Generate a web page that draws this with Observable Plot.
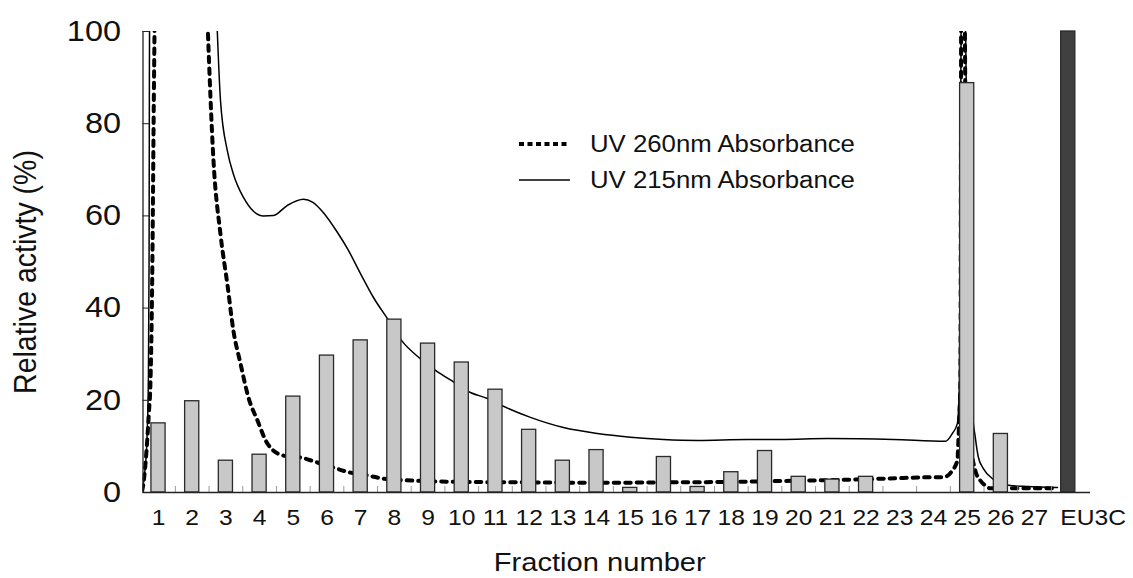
<!DOCTYPE html>
<html>
<head>
<meta charset="utf-8">
<script src="https://cdn.jsdelivr.net/npm/d3@7"></script>
<script src="https://cdn.jsdelivr.net/npm/@observablehq/plot@0.6"></script>
<style>
  body { margin: 0; background: #fff; }
  #wrap { position: relative; width: 1133px; height: 578px; font-family: "Liberation Sans", Arial, sans-serif; color: #111; }
  .lg { position: absolute; left: 519px; height: 30px; display: flex; align-items: center; white-space: nowrap; }
  .lg span { display: inline-block; margin-left: 20px; font-size: 23px; transform: scaleX(1.12); transform-origin: left center; }
</style>
</head>
<body>
<div id="wrap"></div>
<script>
// ---- data ----
const fractionLabels = ["1","2","3","4","5","6","7","8","9","10","11","12","13","14","15","16","17","18","19","20","21","22","23","24","25","26","27","EU3C"];
const activity = [15, 19.8, 6.9, 8.2, 20.8, 29.7, 33.0, 37.5, 32.3, 28.2, 22.3, 13.6, 6.9, 9.2, 1.0, 7.7, 1.2, 4.4, 9.0, 3.4, 2.8, 3.4, null, null, 88.8, 12.7, null, 100];
const controlLabel = "EU3C";
const yTicks = [0, 20, 40, 60, 80, 100];

// UV 260 nm trace: [fraction position, relative value]
const uv260Left = [[0.516,0.4],[0.564,2.6],[0.614,6.3],[0.665,11.3],[0.712,17],[0.763,24.3],[0.813,46],[0.861,85],[0.885,102]];
const uv260Main = [[2.455,102],[2.632,72],[2.84,56],[3.047,45],[3.226,35],[3.433,28],[3.67,20.6],[3.938,15.6],[4.234,10.6],[4.709,8.0],[5.214,7.6],[5.718,6.5],[6.193,5.4],[6.697,4.3],[7.202,3.7],[7.677,3.0],[8.5,2.6],[10,2.3],[12,2.2],[14,2.1],[16,2.2],[18,2.3],[19.5,2.5],[21,2.7],[22.5,3.0],[24,3.3],[24.29,3.3],[24.56,4.8],[24.71,7],[24.74,11.3],[24.77,17],[24.8,24],[24.82,102]];
const uv260Tail = [[24.93,102],[25.0,40],[25.12,10],[25.24,4.8],[25.39,2.6],[25.54,1.5],[25.69,0.9],[26.34,0.9],[27.38,0.9],[27.62,0.9]];

// UV 215 nm trace
const uv215Left = [[0.52,0.5],[0.6,5],[0.66,12],[0.7,25],[0.72,50],[0.73,90],[0.735,102]];
const uv215Main = [[2.735,102],[2.84,85],[3.047,74],[3.226,69],[3.522,64],[3.819,61],[4.116,60],[4.412,60.1],[4.828,62.3],[5.303,63.6],[5.57,63],[5.896,60.7],[6.312,56.4],[6.608,52.9],[6.994,47.5],[7.38,42.3],[7.795,37.7],[8.21,33],[8.774,29],[9.22,26.5],[9.754,24],[10.258,21.7],[10.763,20.4],[11.237,18.7],[12.039,16.3],[13.018,14.1],[14.027,12.8],[15.006,12],[15.985,11.5],[16.994,11.3],[18.478,11.5],[19.457,11.5],[20.852,11.7],[22.81,11.5],[24.353,11.1],[24.56,12.8],[24.71,15],[24.77,24],[24.82,102]];
const uv215Tail = [[24.95,102],[25.05,40],[25.15,18],[25.24,12],[25.33,7.7],[25.48,5.2],[25.75,3],[26.28,1.5],[26.79,1.3],[27.68,1.1]];

// ---- build tables ----
const bars = fractionLabels.map((label, i) => ({label, pos: i + 1, value: activity[i], control: label === controlLabel}))
  .filter(d => d.value != null);
const seg = (arr, s) => arr.map(([x, y]) => ({x, y, s}));
const uv260 = [...seg(uv260Left, "a"), ...seg(uv260Main, "b"), ...seg(uv260Tail, "c")];
const uv215 = [...seg(uv215Left, "a"), ...seg(uv215Main, "b"), ...seg(uv215Tail, "c")];
const positions = fractionLabels.map((_, i) => i + 1);
const boundaries = positions.slice(0, -1).map(p => p + 0.5);
const xDomain = [0.54, 28.66];
const halfBar = 0.21;

const chart = Plot.plot({
  width: 1133,
  height: 578,
  marginLeft: 142.5,
  marginRight: 43,
  marginTop: 31,
  marginBottom: 86,
  style: {fontFamily: "Liberation Sans, Arial, sans-serif", color: "#111", background: "#fff", overflow: "visible"},
  x: {domain: xDomain, axis: null},
  y: {domain: [0, 100], axis: null},
  marks: [
    Plot.line(uv215, {x: "x", y: "y", z: "s", stroke: "#000", strokeWidth: 1.5, curve: "monotone-x", clip: true}),
    Plot.line(uv260, {x: "x", y: "y", z: "s", stroke: "#000", strokeWidth: 4, strokeDasharray: "5.5 6", curve: "monotone-x", clip: true}),
    Plot.rectY(bars, {x1: d => d.pos - halfBar, x2: d => d.pos + halfBar, y1: 0, y2: "value",
      fill: d => d.control ? "#404040" : "#c8c8c8", stroke: "#2a2a2a", strokeWidth: 1.3}),
    Plot.axisX(boundaries, {tickSize: 6, dy: -6, tickFormat: () => "", stroke: "#999", label: null}),
    Plot.ruleY([0], {stroke: "#222", strokeWidth: 1.3}),
    Plot.ruleX([xDomain[0]], {stroke: "#222", strokeWidth: 1.3}),
    Plot.axisY(yTicks, {tickSize: 7, dx: 7, tickFormat: () => "", stroke: "#222", label: null}),
    Plot.axisY(yTicks, {tickSize: 0, tickPadding: 22, fontSize: 29, label: null}),
    Plot.axisX(positions.slice(0, -1), {tickSize: 0, tickPadding: 17, fontSize: 22, tickFormat: d => fractionLabels[d - 1], label: null}),
    Plot.axisX(positions.slice(-1), {tickSize: 0, tickPadding: 17, fontSize: 22, tickFormat: d => fractionLabels[d - 1], textAnchor: "start", dx: -8, label: null}),
    Plot.text(["Relative activty (%)"], {frameAnchor: "left", textAnchor: "middle", lineAnchor: "middle", rotate: -90, dx: -117, dy: 10, fontSize: 28.5}),
    Plot.text(["Fraction number"], {frameAnchor: "bottom", textAnchor: "middle", lineAnchor: "middle", dx: -17, dy: 70, fontSize: 26})
  ]
});

// horizontal stretch of the text, as in the reference
chart.querySelectorAll("text").forEach(t => {
  const tr = t.getAttribute("transform") || "";
  if (/^translate\([^)]*\)/.test(tr)) t.setAttribute("transform", tr.replace(/^(translate\([^)]*\))/, "$1 scale(1.12,1)"));
  else if (!t.hasAttribute("x") && !t.hasAttribute("y")) t.setAttribute("transform", tr + " scale(1.12,1)");
});

const wrap = document.getElementById("wrap");
wrap.appendChild(chart);

// legend
const legendItems = [
  {label: "UV 260nm Absorbance", width: 4, dash: "5 3.5", cy: 144},
  {label: "UV 215nm Absorbance", width: 1.6, dash: null, cy: 180}
];
for (const it of legendItems) {
  const row = document.createElement("div");
  row.className = "lg";
  row.style.top = (it.cy - 15) + "px";
  row.innerHTML = `<svg width="51" height="30"><line x1="0" x2="51" y1="15" y2="15" stroke="#000" stroke-width="${it.width}" ${it.dash ? `stroke-dasharray="${it.dash}"` : ""}/></svg><span>${it.label}</span>`;
  wrap.appendChild(row);
}
</script>
</body>
</html>
